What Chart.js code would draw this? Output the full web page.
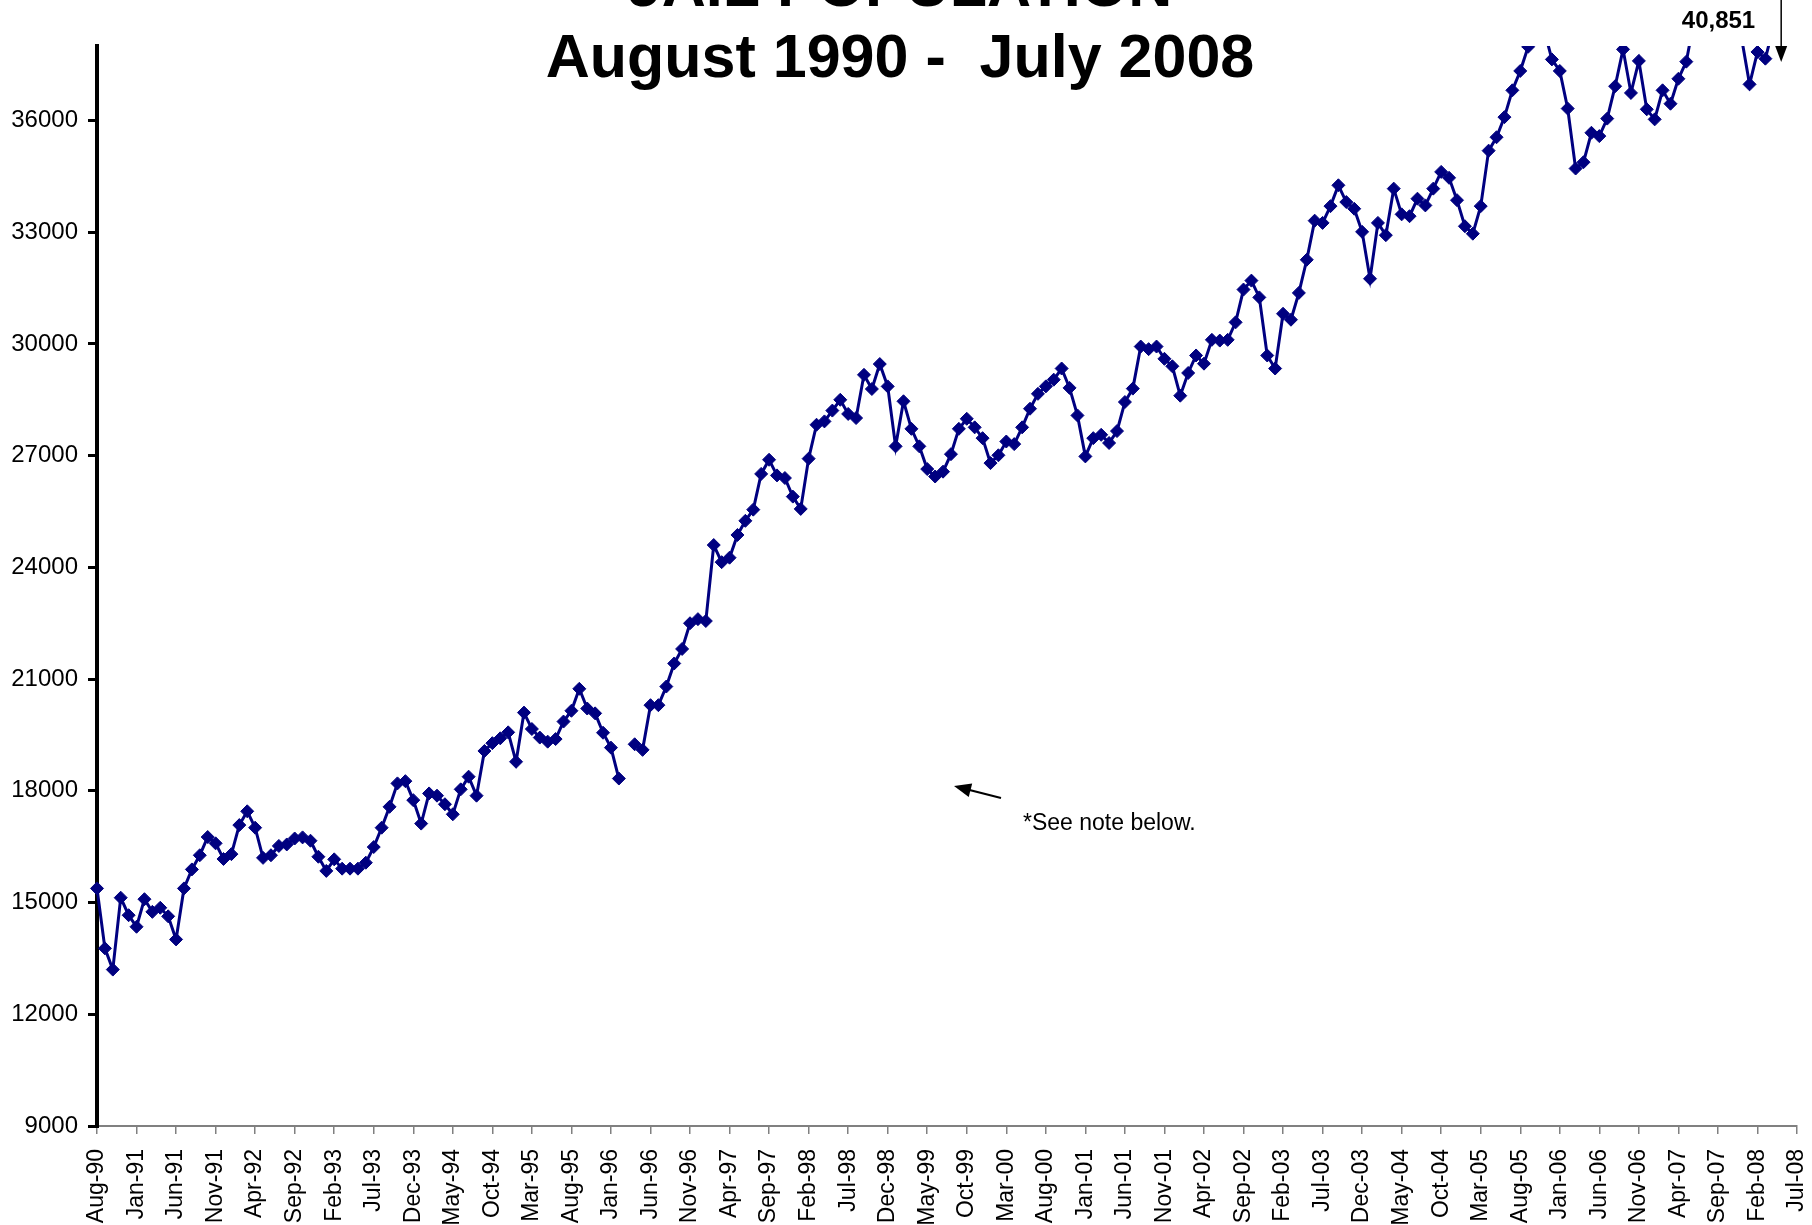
<!DOCTYPE html>
<html>
<head>
<meta charset="utf-8">
<script src="https://cdn.jsdelivr.net/npm/chart.js@4.4.1/dist/chart.umd.min.js"></script>
<style>
  body { margin: 0; background: #fff; }
  #wrap { width: 1812px; height: 1225px; position: relative; overflow: hidden; }
</style>
</head>
<body>
<div id="wrap"><canvas id="jailChart" width="1812" height="1225"></canvas></div>
<script>
// month labels, Aug-90 .. Jul-08
const monthNames = ['Jan', 'Feb', 'Mar', 'Apr', 'May', 'Jun', 'Jul', 'Aug', 'Sep', 'Oct', 'Nov', 'Dec'];
const months = [];
for (let y = 1990; y <= 2008; y++) {
    for (let m = 0; m < 12; m++) {
        if (y === 1990 && m < 7) continue;
        if (y === 2008 && m > 6) continue;
        months.push(monthNames[m] + '-' + String(y % 100).padStart(2, '0'));
    }
}

// y axis ticks (axis itself runs up to 38000)
const yTicks = [9000, 12000, 15000, 18000, 21000, 24000, 27000, 30000, 33000, 36000];

// jail population, one value per month (null = no data)
const pop1990 = [15380, 13770, 13200, 15130, 14660];
const pop1991 = [14350, 15090, 14750, 14860, 14630, 14010, 15380, 15890, 16270, 16760, 16590, 16170];
const pop1992 = [16300, 17080, 17450, 17010, 16200, 16270, 16520, 16560, 16720, 16750, 16660, 16230];
const pop1993 = [15850, 16160, 15910, 15910, 15910, 16070, 16490, 17010, 17570, 18200, 18260, 17750];
const pop1994 = [17120, 17930, 17870, 17640, 17370, 18040, 18380, 17870, 19070, 19280, 19410, 19570];
const pop1995 = [18780, 20100, 19660, 19430, 19320, 19390, 19860, 20150, 20740, 20210, 20080, 19560];
const pop1996 = [19160, 18330, null, 19250, 19100, 20300, 20300, 20800, 21420, 21810, 22500, 22610];
const pop1997 = [22560, 24600, 24140, 24260, 24870, 25250, 25550, 26510, 26890, 26470, 26400, 25900];
const pop1998 = [25570, 26920, 27830, 27920, 28210, 28500, 28120, 28010, 29170, 28790, 29460, 28860];
const pop1999 = [27250, 28460, 27720, 27250, 26640, 26440, 26570, 27040, 27720, 27990, 27760, 27470];
const pop2000 = [26800, 27010, 27380, 27310, 27760, 28260, 28660, 28860, 29040, 29340, 28820, 28080];
const pop2001 = [26980, 27470, 27560, 27340, 27660, 28440, 28800, 29930, 29860, 29930, 29600, 29400];
const pop2002 = [28610, 29220, 29690, 29470, 30110, 30090, 30110, 30580, 31460, 31700, 31250, 29690];
const pop2003 = [29340, 30810, 30650, 31370, 32260, 33310, 33250, 33700, 34260, 33810, 33630, 33010];
const pop2004 = [31750, 33250, 32920, 34170, 33480, 33430, 33900, 33720, 34170, 34620, 34460, 33860];
const pop2005 = [33160, 32960, 33700, 35190, 35550, 36090, 36810, 37330, 37980, 38600, 38450, 37640];
const pop2006 = [37330, 36320, 34710, 34880, 35670, 35580, 36050, 36920, 37910, 36740, 37600, 36300];
const pop2007 = [36030, 36810, 36450, 37120, 37580, 38700, 39200, 39600, 39400, 39000, 38800, 38200];
const pop2008 = [36970, 37840, 37660, 38500, 40851, 40300, 40500];

const jailPop = [].concat(pop1990, pop1991, pop1992, pop1993, pop1994, pop1995, pop1996,
    pop1997, pop1998, pop1999, pop2000, pop2001, pop2002, pop2003, pop2004, pop2005,
    pop2006, pop2007, pop2008);

const titleLines = ['JAIL POPULATION', 'August 1990 -  July 2008'];
const peakLabel = '40,851';
const peakMonth = 'May-08';
const noteText = '*See note below.';

const FONT = '"Liberation Sans", Arial, Helvetica, sans-serif';
Chart.defaults.font.family = FONT;

// titles + arrows drawn on top
const notesPlugin = {
    id: 'notes',
    afterDraw(chart) {
        const ctx = chart.ctx;
        const xs = chart.scales.x;
        ctx.save();
        ctx.fillStyle = '#000';
        ctx.strokeStyle = '#000';

        ctx.textAlign = 'center';
        ctx.textBaseline = 'alphabetic';
        ctx.font = 'bold 61px ' + FONT;
        ctx.fillText(titleLines[0], 900, 6);
        ctx.fillText(titleLines[1], 900, 77);

        // peak value, arrow pointing down
        const ax = xs.getPixelForValue(months.indexOf(peakMonth));
        ctx.font = 'bold 24px ' + FONT;
        ctx.textAlign = 'right';
        ctx.fillText(peakLabel, ax - 26, 28);
        ctx.lineWidth = 1.5;
        ctx.beginPath();
        ctx.moveTo(ax, 0);
        ctx.lineTo(ax, 48);
        ctx.stroke();
        ctx.beginPath();
        ctx.moveTo(ax - 6, 46);
        ctx.lineTo(ax + 6, 46);
        ctx.lineTo(ax, 62);
        ctx.closePath();
        ctx.fill();

        // note
        ctx.font = '23px ' + FONT;
        ctx.textAlign = 'left';
        ctx.fillText(noteText, 1023, 830);
        const tx = 1001, ty = 798, hx = 954, hy = 786;
        const dx = hx - tx, dy = hy - ty;
        const len = Math.sqrt(dx * dx + dy * dy);
        const ux = dx / len, uy = dy / len;
        ctx.lineWidth = 2.2;
        ctx.beginPath();
        ctx.moveTo(tx, ty);
        ctx.lineTo(hx - ux * 12, hy - uy * 12);
        ctx.stroke();
        ctx.beginPath();
        ctx.moveTo(hx, hy);
        ctx.lineTo(hx - ux * 17 - uy * 7, hy - uy * 17 + ux * 7);
        ctx.lineTo(hx - ux * 17 + uy * 7, hy - uy * 17 - ux * 7);
        ctx.closePath();
        ctx.fill();
        ctx.restore();
    }
};

const ctx = document.getElementById('jailChart').getContext('2d');
const jailChart = new Chart(ctx, {
    type: 'line',
    data: {
        labels: months,
        datasets: [{
            label: 'Jail population',
            data: jailPop,
            borderColor: '#000080',
            backgroundColor: '#000080',
            borderWidth: 3,
            pointStyle: 'rectRot',
            pointRadius: 6.5,
            pointBorderWidth: 1,
            pointBackgroundColor: '#000080',
            tension: 0,
            spanGaps: false,
            clip: { left: 10, top: 0, right: 10, bottom: 10 }
        }]
    },
    options: {
        responsive: false,
        animation: false,
        layout: { padding: { top: 46, right: 15, left: 0, bottom: 0 } },
        plugins: {
            legend: { display: false },
            tooltip: { enabled: false },
            title: { display: false }
        },
        scales: {
            x: {
                offset: false,
                grid: { drawOnChartArea: false, color: '#808080', lineWidth: 1.5, tickLength: 8 },
                border: { color: '#808080', width: 2 },
                ticks: {
                    autoSkip: false,
                    maxRotation: 90,
                    minRotation: 90,
                    color: '#000',
                    font: { size: 23 },
                    padding: 15
                },
                afterBuildTicks: function (scale) {
                    scale.ticks = scale.ticks.filter(t => t.value % 5 === 0);
                },
                afterFit: function (scale) {
                    scale.height = 99;
                    scale.paddingLeft = 0;
                    scale.paddingRight = 0;
                }
            },
            y: {
                min: 9000,
                max: 38000,
                grid: { drawOnChartArea: false, color: '#000', lineWidth: 3, tickLength: 9 },
                border: { color: '#000', width: 4 },
                ticks: {
                    autoSkip: false,
                    color: '#000',
                    font: { size: 24 },
                    padding: 10,
                    callback: v => String(v)
                },
                afterBuildTicks: function (scale) {
                    scale.ticks = yTicks.map(v => ({ value: v }));
                },
                afterFit: function (scale) {
                    scale.width = 97;
                    scale.paddingTop = 0;
                    scale.paddingBottom = 0;
                }
            }
        }
    },
    plugins: [notesPlugin]
});
</script>
</body>
</html>
